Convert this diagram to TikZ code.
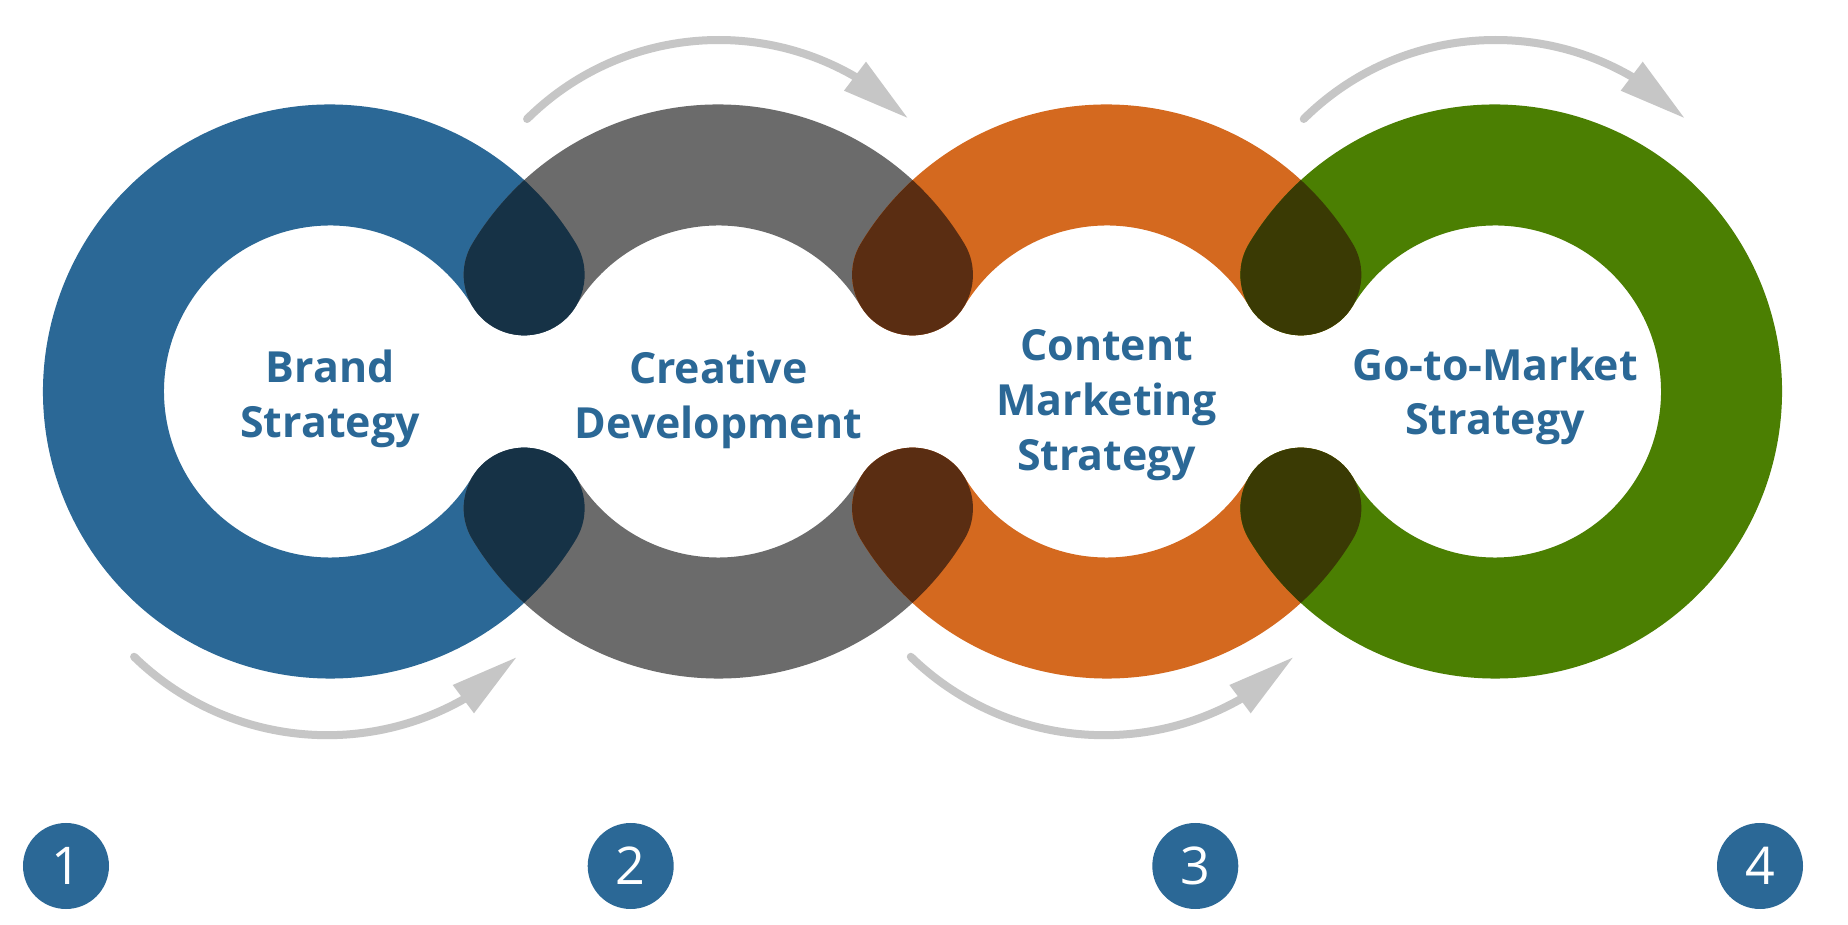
\documentclass[tikz,border=0pt]{standalone}
\usepackage{fontspec}
\newfontfamily\osans{Open Sans}
\definecolor{cblue}{HTML}{2B6896}
\definecolor{cgray}{HTML}{6B6B6B}
\definecolor{corange}{HTML}{D4691F}
\definecolor{cgreen}{HTML}{4B7F02}
\definecolor{dbg}{HTML}{163246}
\definecolor{dgo}{HTML}{5A2D12}
\definecolor{dog}{HTML}{3A3A04}
\definecolor{carrow}{HTML}{C6C6C6}
\begin{document}
\begin{tikzpicture}[x=0.25mm,y=0.25mm,
  ring seg/.style n args={4}{insert path={(#1,#2) ++(#3:287)
     arc[start angle=#3,end angle=#4,radius=287]
     arc[start angle=#4,end angle=#4+180,radius=60.5]
     arc[start angle=#4,end angle=#3,radius=166]
     arc[start angle=#3+180,end angle=#3+360,radius=60.5] -- cycle}},
  arrowline/.style={draw=carrow,line width=2mm,line cap=round},
  arrowhead/.style={fill=carrow},
  lbl/.style={align=center,text=cblue,inner sep=0pt,
     font=\osans\bfseries\fontsize{30.5}{38.8}\selectfont},
  numc/.style={circle,fill=cblue,minimum size=21.5mm,inner sep=0pt,text=white,
     font=\osans\fontsize{37}{37}\selectfont}]
\useasboundingbox (0,0) rectangle (1848,924);
\fill[white] (0,0) rectangle (1848,924);
% rings
\fill[cblue] [ring seg={330}{532.5}{31}{329}];
\fill[cgray] [ring seg={718.3}{532.5}{31}{149}];
\fill[cgray] [ring seg={718.3}{532.5}{211}{329}];
\fill[corange] [ring seg={1106.7}{532.5}{31}{149}];
\fill[corange] [ring seg={1106.7}{532.5}{211}{329}];
\fill[cgreen] [ring seg={1495}{532.5}{-149}{149}];
% overlaps
\begin{scope}
  \clip [ring seg={330}{532.5}{31}{329}];
  \fill[dbg] [ring seg={718.3}{532.5}{31}{149}];
  \fill[dbg] [ring seg={718.3}{532.5}{211}{329}];
\end{scope}
\begin{scope}
  \clip [ring seg={1495}{532.5}{-149}{149}];
  \fill[dog] [ring seg={1106.7}{532.5}{31}{149}];
  \fill[dog] [ring seg={1106.7}{532.5}{211}{329}];
\end{scope}
\begin{scope}
  \clip [ring seg={718.3}{532.5}{31}{149}];
  \fill[dgo] [ring seg={1106.7}{532.5}{31}{149}];
\end{scope}
\begin{scope}
  \clip [ring seg={718.3}{532.5}{211}{329}];
  \fill[dgo] [ring seg={1106.7}{532.5}{211}{329}];
\end{scope}
% arrows
\draw[arrowline] (718.7,612) ++(134.8:272) arc[start angle=134.8,end angle=57,radius=272];
\fill[arrowhead] (907.3,806.3) -- (866,862.3) -- (844,833.3) -- cycle;
\draw[arrowline] (1495.4,612) ++(134.8:272) arc[start angle=134.8,end angle=57,radius=272];
\fill[arrowhead] (1684,806.3) -- (1642.7,862.3) -- (1620.7,833.3) -- cycle;
\draw[arrowline] (327.2,465.8) ++(225.8:277) arc[start angle=225.8,end angle=301,radius=277];
\fill[arrowhead] (516,266.3) -- (452.7,239) -- (474,210.7) -- cycle;
\draw[arrowline] (1103.9,465.8) ++(225.8:277) arc[start angle=225.8,end angle=301,radius=277];
\fill[arrowhead] (1292.7,266.3) -- (1229.4,239) -- (1250.7,210.7) -- cycle;
% labels
\node[lbl] (t1) at (330,525.2) {Brand\\Strategy};
\node[lbl] (t2) at (718.3,524.4) {Creative\\Development};
\node[lbl] (t3) at (1106.7,518.9) {Content\\Marketing\\Strategy};
\node[lbl] (t4) at (1495,527.5) {Go-to-Market\\Strategy};
% numbers
\node[numc] (n1) at (66,58) {1};
\node[numc] (n2) at (630.7,58) {2};
\node[numc] (n3) at (1195.3,58) {3};
\node[numc] (n4) at (1760,58) {4};
\end{tikzpicture}
\end{document}
